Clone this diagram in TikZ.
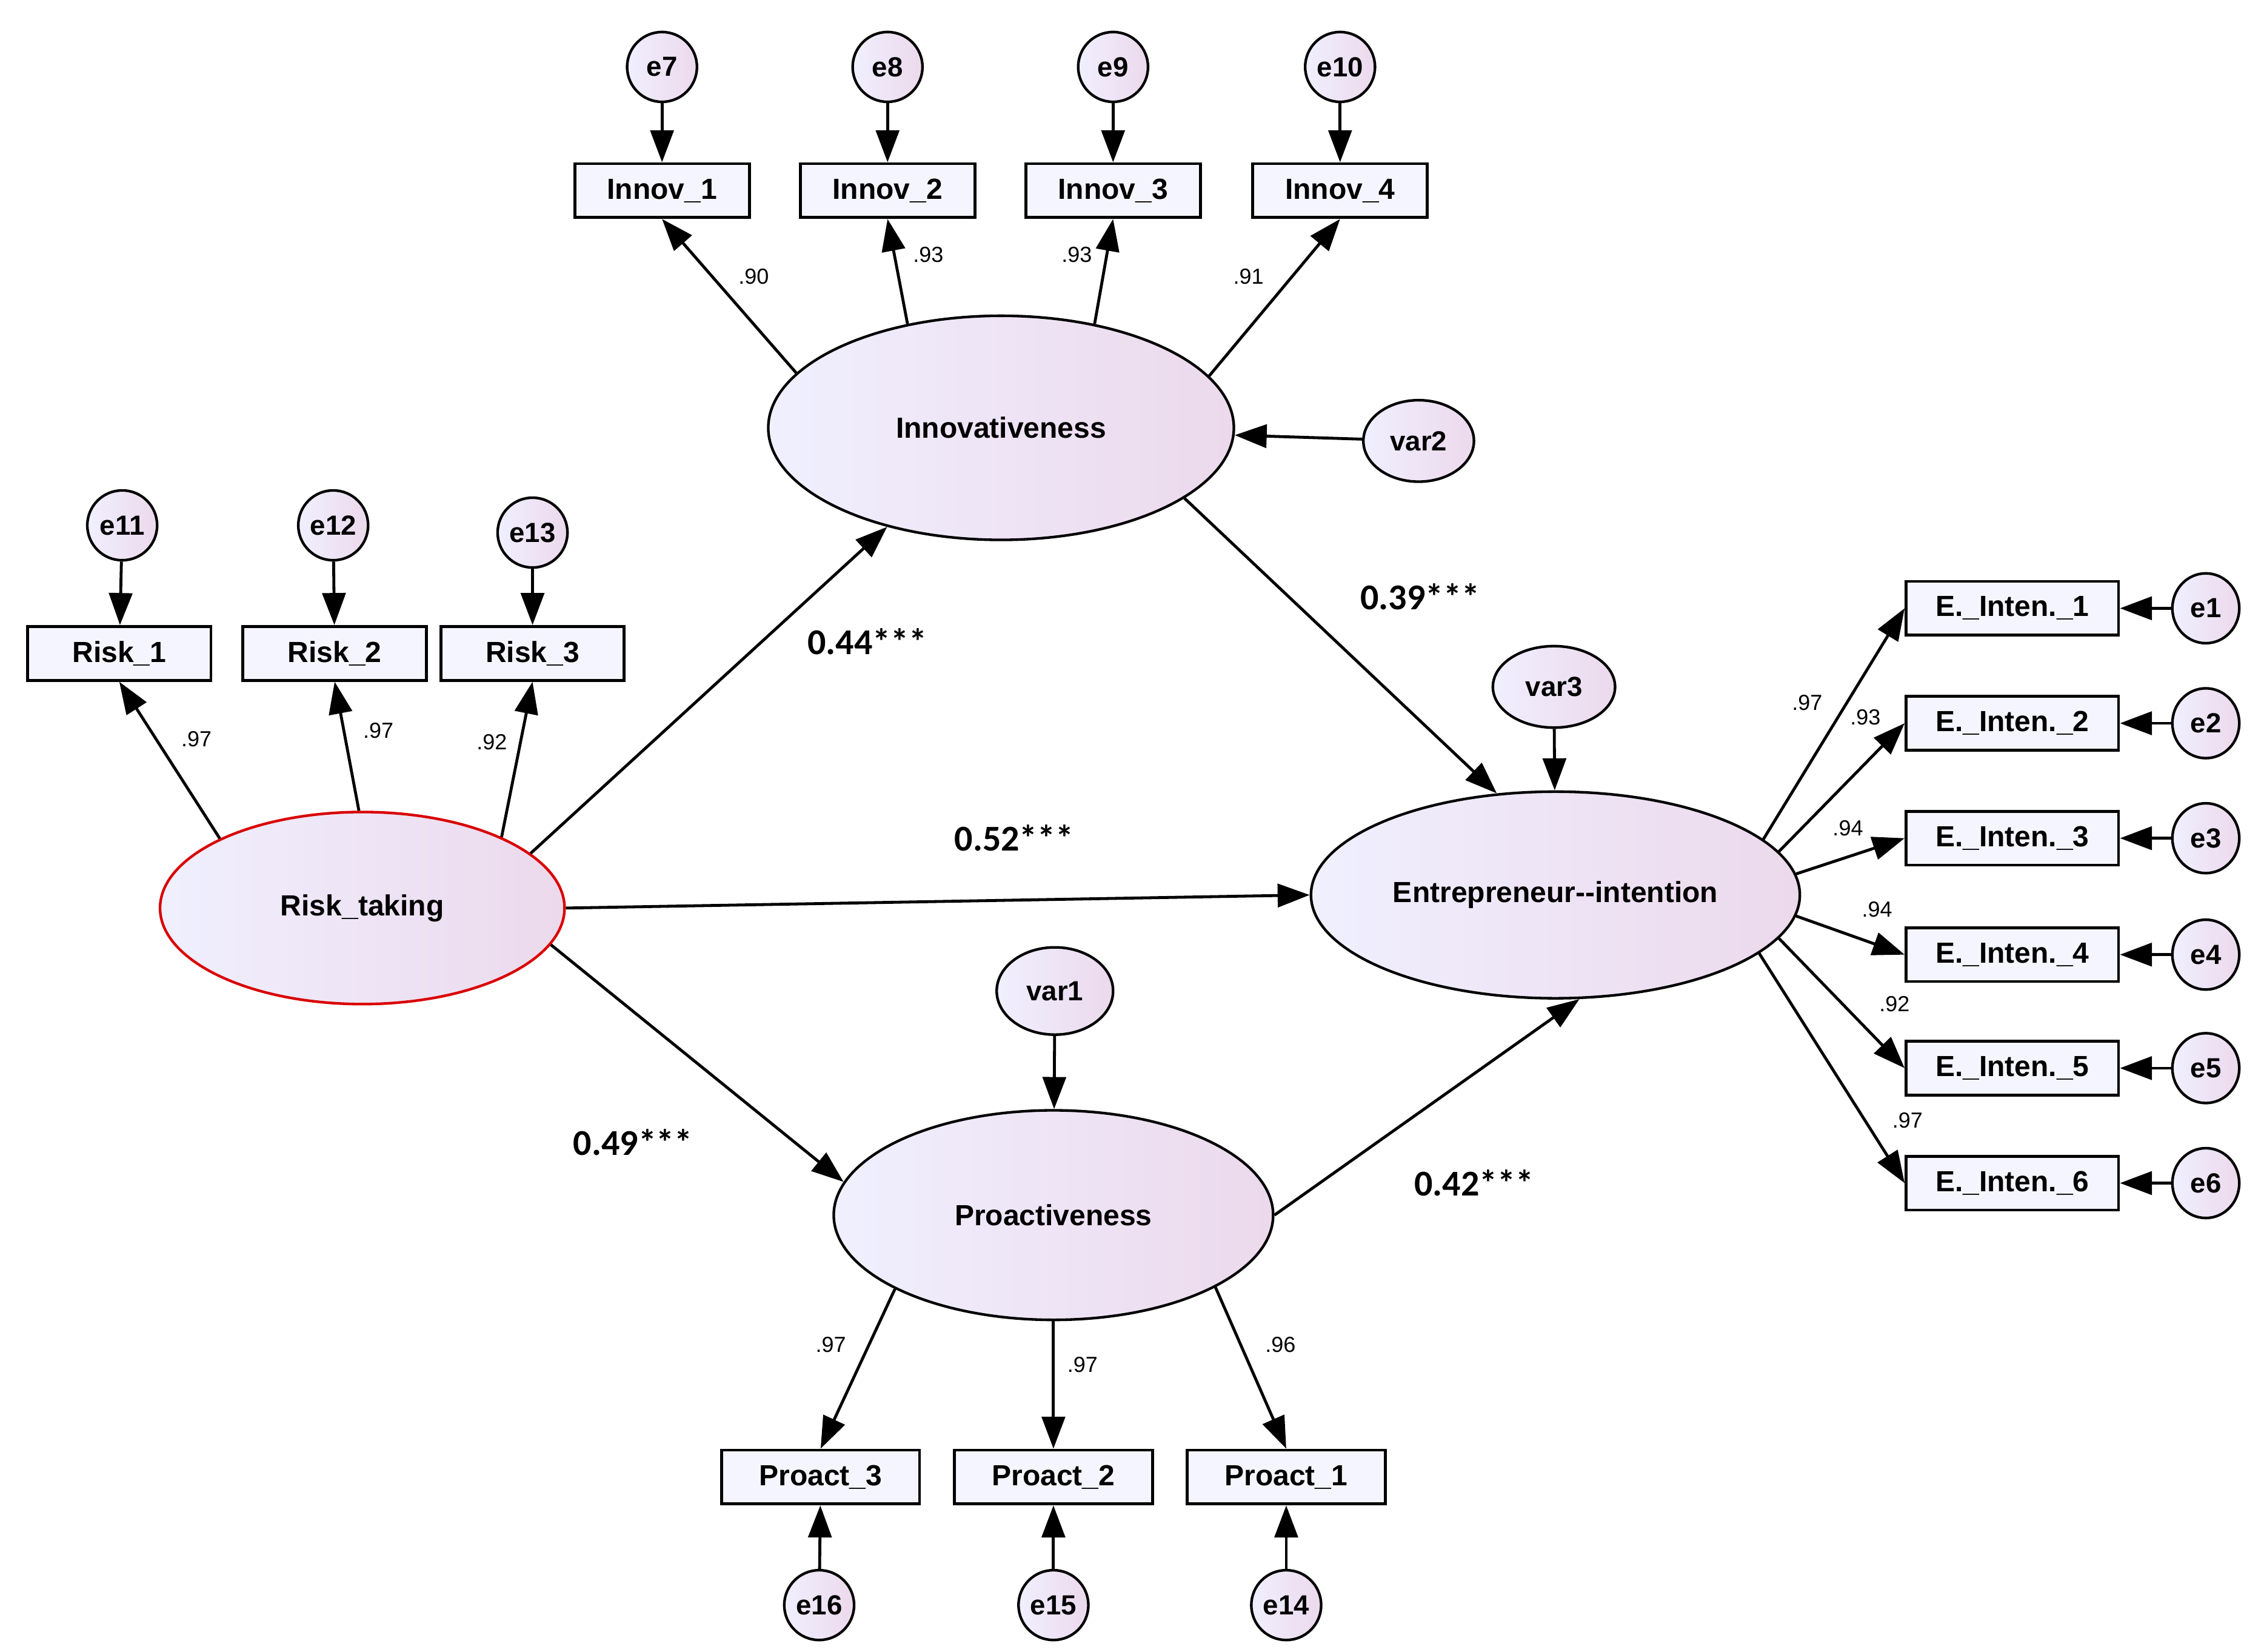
\documentclass[tikz,border=0pt]{standalone}
\usepackage{fontspec}
\setmainfont{Liberation Sans}
\newfontfamily\myCarl{Carlito}
\usetikzlibrary{shapes.geometric,arrows.meta}
\begin{document}
\begin{tikzpicture}[x=1pt,y=-1pt,
 lat/.style={ellipse,draw,line width=1.8pt,left color=black!4!blue!6,right color=violet!15,font=\fontsize{20}{24}\selectfont\bfseries,inner sep=0},
 box/.style={rectangle,draw,line width=2pt,fill=blue!4,font=\fontsize{20}{24}\selectfont\bfseries,minimum height=37pt,inner sep=0},
 err/.style={ellipse,draw,line width=1.8pt,left color=black!4!blue!6,right color=violet!15,font=\fontsize{19}{24}\selectfont\bfseries,inner sep=0},
 ar/.style={line width=2pt,-{Triangle[length=22pt,width=16pt]}},
 ld/.style={font=\fontsize{15}{18}\selectfont},
 pl/.style={font=\myCarl\fontsize{25}{30}\selectfont\bfseries}]
\useasboundingbox (0,0) rectangle (1556,1135);
\node[lat,minimum width=320pt,minimum height=154pt] (inn) at (688,294) {Innovativeness};
\node[lat,minimum width=278pt,minimum height=132pt,draw=red!85!black] (rt) at (249,624) {Risk\_taking};
\node[lat,minimum width=336pt,minimum height=142pt] (ei) at (1069,615) {Entrepreneur{-}{-}intention};
\node[lat,minimum width=302pt,minimum height=144pt] (pro) at (724,835) {Proactiveness};
\node[err,minimum width=76pt,minimum height=56pt] (v2) at (975,303) {var2};
\node[err,minimum width=84pt,minimum height=56pt] (v3) at (1068,472) {var3};
\node[err,minimum width=80pt,minimum height=60pt] (v1) at (725,681) {var1};
\foreach \i/\x/\e in {1/455/7,2/610/8,3/765/9,4/921/10}{
 \node[box,minimum width=120pt] (in\i) at (\x,131) {Innov\_\i};
 \node[err,minimum size=48pt] (e\e) at (\x,46) {e\e};
 \draw[ar] (e\e) -- (in\i);}
\node[box,minimum width=126pt] (r1) at (82,449) {Risk\_1};
\node[box,minimum width=126pt] (r2) at (230,449) {Risk\_2};
\node[box,minimum width=126pt] (r3) at (366,449) {Risk\_3};
\node[err,minimum size=48pt] (e11) at (84,361) {e11};
\node[err,minimum size=48pt] (e12) at (229,361) {e12};
\node[err,minimum size=48pt] (e13) at (366,366) {e13};
\draw[ar] (e11) -- (r1); \draw[ar] (e12) -- (r2); \draw[ar] (e13) -- (r3);
\foreach \i/\y/\a in {1/418/15,2/497/11,3/576/5,4/656/355,5/734/349,6/813/344}{
 \node[box,minimum width=146pt] (ein\i) at (1383,\y) {E.\_Inten.\_\i};
 \node[err,minimum width=46pt,minimum height=48pt] (ee\i) at (1516,\y) {e\i};
 \draw[ar] (ee\i) -- (ein\i);
 \draw[ar] (ei.\a) -- (ein\i.west);}
\node[box,minimum width=136pt] (p3) at (564,1015) {Proact\_3};
\node[box,minimum width=136pt] (p2) at (724,1015) {Proact\_2};
\node[box,minimum width=136pt] (p1) at (884,1015) {Proact\_1};
\node[err,minimum size=48pt] (e16) at (563,1103) {e16};
\node[err,minimum size=48pt] (e15) at (724,1103) {e15};
\node[err,minimum size=48pt] (e14) at (884,1103) {e14};
\draw[ar] (e16) -- (p3); \draw[ar] (e15) -- (p2); \draw[ar] (e14) -- (p1);
% loadings
\draw[ar] (inn.165) -- (in1.south); \draw[ar] (inn.132) -- (in2.south);
\draw[ar] (inn.48) -- (in3.south); \draw[ar] (inn.14) -- (in4.south);
\draw[ar] (rt.154) -- (r1.south); \draw[ar] (rt.92) -- (r2.south); \draw[ar] (rt.27) -- (r3.south);
\draw[ar] (pro.205) -- (p3.north); \draw[ar] (pro.270) -- (p2.north); \draw[ar] (pro.336) -- (p1.north);
\draw[ar] (v2) -- (inn); \draw[ar] (v3) -- (ei); \draw[ar] (v1) -- (pro);
% structural
\draw[ar] (rt.18) -- (inn.221); \draw[ar] (rt.0) -- (ei.180); \draw[ar] (rt.349) -- (pro.171);
\draw[ar] (inn.339) -- (ei.120); \draw[ar] (pro.0) -- (ei.283);
% labels
\node[ld] at (518,190) {.90}; \node[ld] at (638,175) {.93}; \node[ld] at (740,175) {.93}; \node[ld] at (858,190) {.91};
\node[ld] at (135,508) {.97}; \node[ld] at (260,502) {.97}; \node[ld] at (338,510) {.92};
\node[ld] at (1242,483) {.97}; \node[ld] at (1282,493) {.93}; \node[ld] at (1270,569) {.94};
\node[ld] at (1290,625) {.94}; \node[ld] at (1302,690) {.92}; \node[ld] at (1311,770) {.97};
\node[ld] at (571,924) {.97}; \node[ld] at (744,938) {.97}; \node[ld] at (880,924) {.96};
\node[pl] at (596,441) {0.44***}; \node[pl] at (976,410) {0.39***}; \node[pl] at (697,576) {0.52***};
\node[pl] at (435,785) {0.49***}; \node[pl] at (1013,813) {0.42***};
\end{tikzpicture}
\end{document}
